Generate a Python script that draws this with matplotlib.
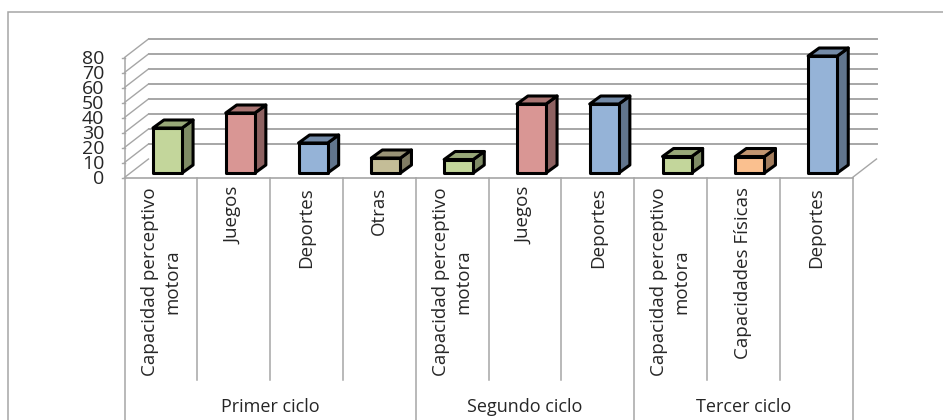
import matplotlib
matplotlib.use("Agg")
import matplotlib.pyplot as plt
from matplotlib.patches import Polygon

plt.rcParams['font.family'] = ['Open Sans', 'DejaVu Sans']

W, H = 943, 420
categories = ["Capacidad perceptivo\nmotora", "Juegos", "Deportes", "Otras",
              "Capacidad perceptivo\nmotora", "Juegos", "Deportes",
              "Capacidad perceptivo\nmotora", "Capacidades Físicas", "Deportes"]
values = [30, 40, 20, 10, 9, 46, 46, 11, 11, 78]
face_colors = ["#C3D69B", "#D99694", "#95B3D7", "#C4BD97", "#C3D69B",
               "#D99694", "#95B3D7", "#C3D69B", "#FAC08F", "#95B3D7"]
side_colors = ["#7F8C65", "#8E6261", "#61758D", "#807C63", "#7F8C65",
               "#8E6261", "#61758D", "#7F8C65", "#A37D5D", "#61758D"]
top_colors = ["#98A878", "#A97573", "#748BA8", "#999376", "#98A878",
              "#A97573", "#748BA8", "#98A878", "#C29570", "#748BA8"]
groups = ["Primer ciclo", "Segundo ciclo", "Tercer ciclo"]
group_sizes = [4, 3, 3]
yticks = [0, 10, 20, 30, 40, 50, 60, 70, 80]

GRID = "#A6A6A6"
TXT = "#262626"

fig = plt.figure(figsize=(W / 100, H / 100), dpi=100)
L, R, T, B = 124.5, 852.5, 57.5, 177.5
ax = fig.add_axes([L / W, 1 - B / H, (R - L) / W, (B - T) / H])
ax.set_xlim(0, 10)
ax.set_ylim(0, 80)
ax.axis("off")
px = 10 / (R - L)          # data units per pixel, x
py = 80 / (B - T)          # data units per pixel, y

# chart frame, bleeding off the bottom and right
fig.add_artist(plt.Rectangle((8 / W, -0.05), 1.0, 1.05 - 12.5 / H, fill=False,
                             edgecolor=GRID, linewidth=1.1, transform=fig.transFigure))

# walls
dx, dy = 24 * px, 18.5 * py
for v in yticks:
    if v > 0:
        ax.plot([dx, 10 + dx], [v + dy, v + dy], color=GRID, lw=1.4, clip_on=False, zorder=1)
    ax.plot([0, dx], [v, v + dy], color=GRID, lw=1.0, clip_on=False, zorder=1)
    ax.plot([-3 * px, 0], [v, v], color=GRID, lw=1.0, clip_on=False, zorder=1)
    ax.text(-20 * px, v - 1 * py, str(v), ha="right", va="center", fontsize=14, color=TXT, clip_on=False)
ax.plot([0, 0], [0, 80], color=GRID, lw=1.1, clip_on=False, zorder=1)
ax.plot([0, 10], [0, 0], color=GRID, lw=1.2, clip_on=False, zorder=1)
ax.plot([10, 10 + dx], [0, dy], color=GRID, lw=1.0, clip_on=False, zorder=1)

# bars
bw = 0.40
off_x, off_y = 6.6 * px, 4.5 * py
ddx, ddy = 11 * px, 8 * py
EDGE = dict(edgecolor="black", linewidth=2.2, joinstyle="round", clip_on=False)
for i, v in enumerate(values):
    x0 = i + 0.5 + off_x - bw / 2
    x1 = x0 + bw
    b = off_y
    t = b + v
    ax.add_patch(Polygon([(x1, b), (x1 + ddx, b + ddy), (x1 + ddx, t + ddy), (x1, t)],
                         facecolor=side_colors[i], zorder=3, **EDGE))
    ax.add_patch(Polygon([(x0, t), (x1, t), (x1 + ddx, t + ddy), (x0 + ddx, t + ddy)],
                         facecolor=top_colors[i], zorder=3, **EDGE))
    ax.bar(x0, v, width=bw, bottom=b, align="edge", color=face_colors[i], zorder=4, **EDGE)

def ypx(p):
    return (B - p) * py

start = 0
for name, n in zip(groups, group_sizes):
    ax.plot([start, start], [0, ypx(420)], color=GRID, lw=1.1, clip_on=False, zorder=1)
    for k in range(start + 1, start + n):
        ax.plot([k, k], [0, ypx(380)], color=GRID, lw=1.1, clip_on=False, zorder=1)
    ax.text(start + n / 2, ypx(406.5), name, ha="center", va="center",
            fontsize=13, color=TXT, clip_on=False)
    start += n
ax.plot([10, 10], [0, ypx(420)], color=GRID, lw=1.1, clip_on=False, zorder=1)

for i, c in enumerate(categories):
    ax.text(i + 0.5, ypx(187), c, rotation=90, ha="center", va="top", fontsize=13.5,
            color=TXT, linespacing=1.3, multialignment="center", clip_on=False)

fig.savefig("out.png", dpi=100)
